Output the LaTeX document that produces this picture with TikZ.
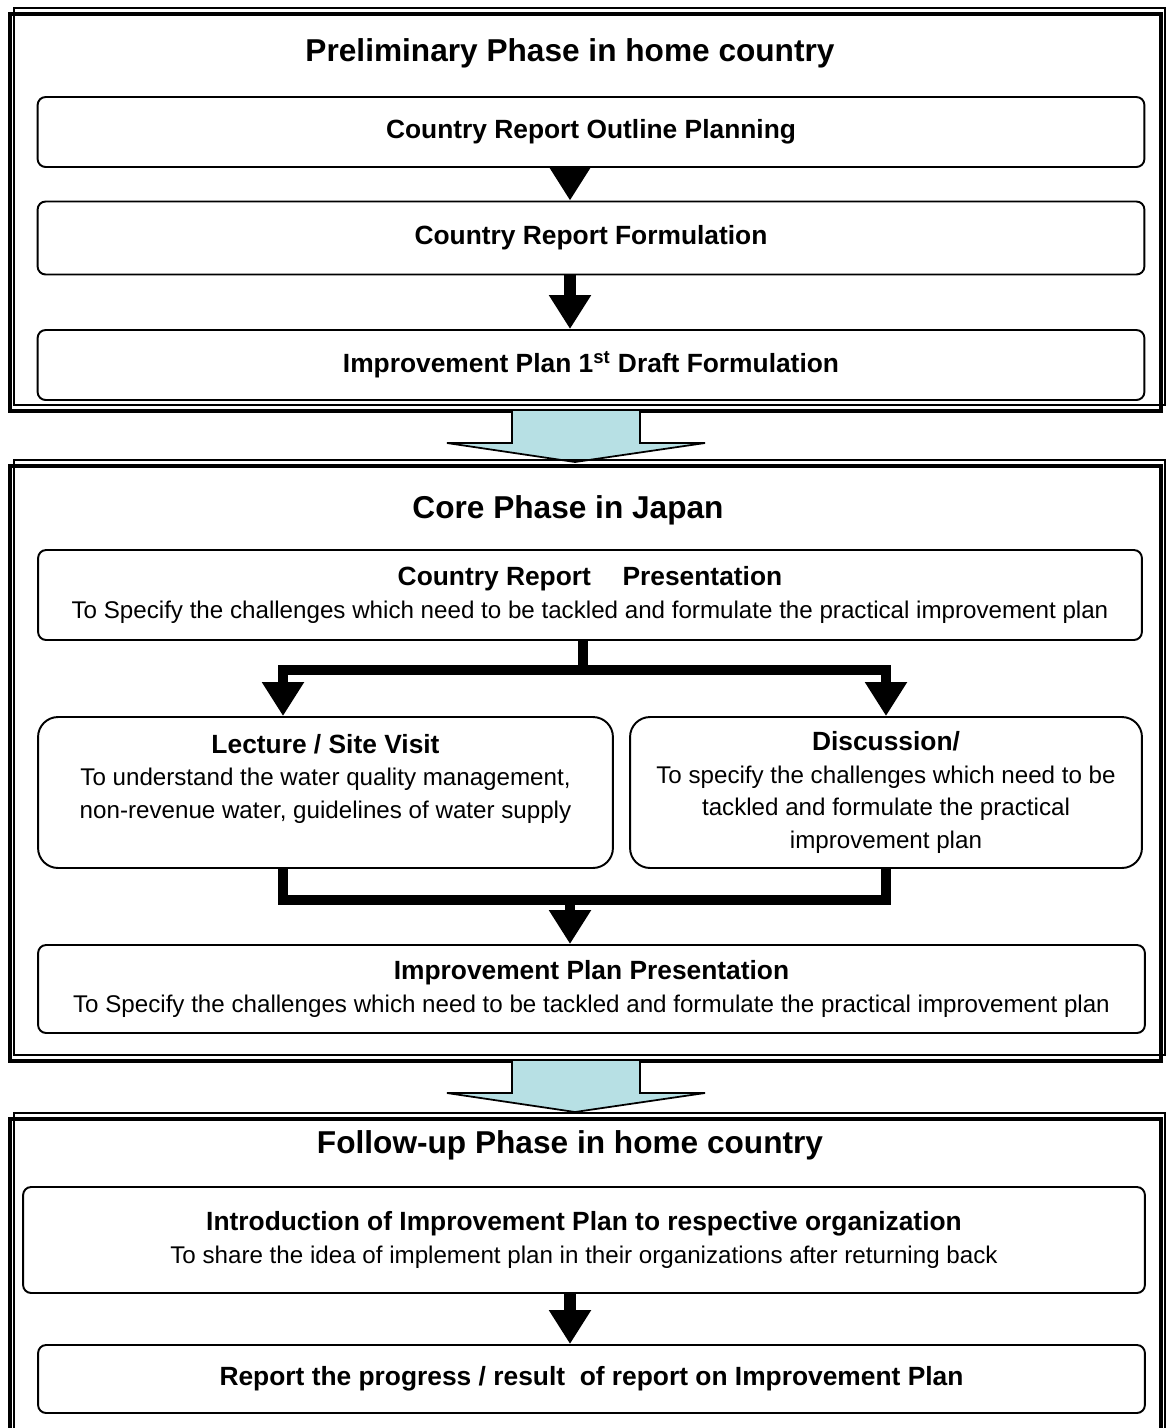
\documentclass[tikz,border=0pt]{standalone}
\usepackage{fontspec}
\setmainfont{Liberation Sans}
\usepackage{tikz}
\usetikzlibrary{positioning,arrows.meta}
\definecolor{colorflow}  {RGB}{183,224,228}
\definecolor{colorline}  {RGB}{0,0,0}
\newcommand\stepfont{\fontsize{15}{20}\selectfont\bfseries}
\newcommand\notefont{\fontsize{13.75}{18.5}\selectfont}

\begin{document}
\begin{tikzpicture}[
    x=0.02cm, y=-0.02cm,
    phasetitle/.style={text=colorline,font={\fontsize{18}{22}\selectfont\bfseries}},
    stepbox/.style={draw=colorline,line width=1.1pt,rounded corners=0.16cm,
        minimum width=22.14cm,align=center,font=\stepfont},
    notebox/.style={stepbox,font=\notefont},
    frame/.style={draw=colorline,line width=0.07cm},
    frameline/.style={draw=colorline,line width=0.6pt},
    flow/.style={draw=colorline,line width=0.24cm,-{Triangle[width=0.8cm,length=0.68cm]}},
    branch/.style={draw=colorline,line width=0.2cm},
    bigarrow/.style={draw=colorline,fill=colorflow,line width=1pt},
]
    \useasboundingbox (0,0) rectangle (1167,1428);
    \clip (0,0) rectangle (1167,1428);

    % preliminary phase
    \draw[frame] (10,14) rectangle (1161,411);
    \draw[frameline] (14,8) rectangle (1165,405);
    \node[phasetitle] (prelim) at (570,53) {Preliminary Phase in home country};
    \node[stepbox,minimum height=1.4cm] (outline) at (591,132) {Country Report Outline Planning};
    \node[stepbox,minimum height=1.46cm] (formulation) at (591,238) {Country Report Formulation};
    \node[stepbox,minimum height=1.4cm] (firstdraft) at (591,365)
        {Improvement Plan 1\textsuperscript{st} Draft Formulation};
    \draw[flow] (outline.south -| prelim) -- (formulation.north -| prelim);
    \draw[flow] (formulation.south -| prelim) -- (firstdraft.north -| prelim);

    \draw[bigarrow] (512,411) -- (512,443) -- (447,443) -- (575,462) -- (705,443)
        -- (640,443) -- (640,411);

    % core phase
    \draw[frame] (10,466) rectangle (1161,1061);
    \draw[frameline] (14,460) rectangle (1165,1055);
    \node[phasetitle] (core) at (568,510) {Core Phase in Japan};
    \node[notebox,minimum width=22.08cm,minimum height=1.8cm] (presentation) at (590,595)
        {{\stepfont Country Report\hspace{1.2em}Presentation}\\
        To Specify the challenges which need to be tackled and formulate the practical improvement plan};
    \node[notebox,minimum width=11.5cm,minimum height=3.02cm,rounded corners=0.4cm] (lecture) at (325.5,792.5)
        {{\stepfont Lecture / Site Visit}\\
        To understand the water quality management,\\
        non-revenue water, guidelines of water supply\\ \mbox{}};
    \node[notebox,minimum width=10.24cm,minimum height=3.02cm,rounded corners=0.4cm] (discussion) at (886,792.5)
        {{\stepfont Discussion/}\\
        To specify the challenges which need to be\\
        tackled and formulate the practical\\
        improvement plan};
    \node[notebox,minimum height=1.76cm] (planpres) at (591.5,989)
        {{\stepfont Improvement Plan Presentation}\\
        To Specify the challenges which need to be tackled and formulate the practical improvement plan};

    \coordinate (split) at (583,670);
    \coordinate (leftcol) at (283,0);
    \coordinate (merge) at (570,900);
    \draw[branch] (presentation.south -| split) -- (split);
    \draw[flow,line width=0.2cm] (split) -| (lecture.north -| leftcol);
    \draw[flow,line width=0.2cm] (split) -| (discussion.north);
    \draw[branch] (lecture.south -| leftcol) |- (discussion.south |- merge) -- (discussion.south);
    \draw[flow,line width=0.2cm] (merge) -- (planpres.north -| merge);

    \draw[bigarrow] (512,1061) -- (512,1093) -- (447,1093) -- (575,1112) -- (705,1093)
        -- (640,1093) -- (640,1061);

    % follow-up phase
    \draw[frame] (10,1119) rectangle (1161,1450);
    \draw[frameline] (14,1113) rectangle (1165,1444);
    \node[phasetitle] (followup) at (570,1145) {Follow-up Phase in home country};
    \node[notebox,minimum width=22.44cm,minimum height=2.12cm] (intro) at (584,1240)
        {{\stepfont Introduction of Improvement Plan to respective organization}\\
        To share the idea of implement plan in their organizations after returning back};
    \node[stepbox,minimum height=1.36cm] (report) at (591.5,1379)
        {Report the progress / result\ \ of report on Improvement Plan};
    \draw[flow] (intro.south -| followup) -- (report.north -| followup);

\end{tikzpicture}
\end{document}
